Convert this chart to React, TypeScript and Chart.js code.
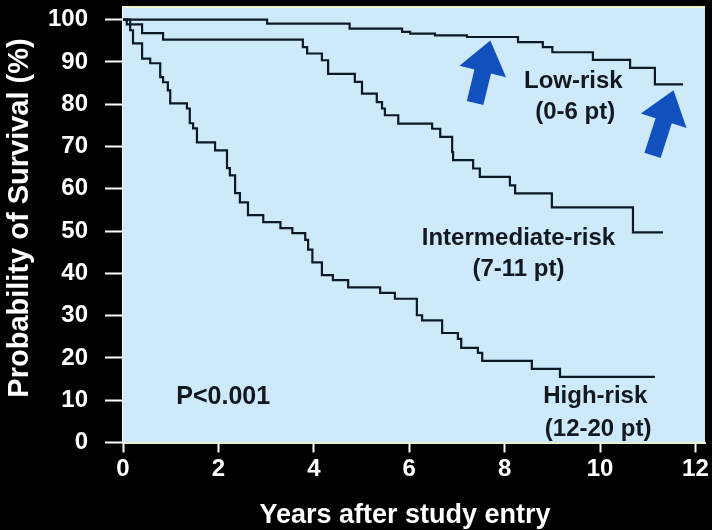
import React, { useEffect, useRef } from 'react';
import { Chart, registerables } from 'chart.js';

Chart.register(...registerables);

// ---- Data (years after study entry, survival %) ----
const lowRiskYears = [0, 3.02, 4.75, 5.85, 6.02, 6.54, 7.21, 8.28, 8.8, 9.0, 9.85, 10.63, 11.15, 11.74];
const lowRiskSurv = [100, 99.05, 97.9, 97.1, 96.7, 96.3, 95.9, 94.7, 93.5, 92.3, 90.5, 88.6, 84.7, 84.7];

const interYears = [0, 0.08, 0.4, 0.84, 3.77, 3.86, 4.17, 4.3, 4.86, 5.01, 5.32, 5.43, 5.49, 5.77, 6.48, 6.65, 6.9, 6.92, 7.34, 7.48, 8.11, 8.22, 8.99, 10.69, 11.32];
const interSurv = [100, 98.9, 96.8, 95.3, 93.5, 92.0, 90.4, 87.2, 85.3, 82.5, 80.5, 79.0, 77.4, 75.4, 74.2, 72.3, 68.7, 66.8, 64.8, 62.8, 60.8, 58.9, 55.6, 49.7, 49.7];

const highYears = [0, 0.15, 0.21, 0.4, 0.57, 0.78, 0.84, 0.94, 0.99, 1.34, 1.4, 1.47, 1.55, 1.93, 2.18, 2.24, 2.35, 2.45, 2.62, 2.94, 3.3, 3.55, 3.82, 3.88, 3.97, 4.17, 4.4, 4.72, 5.39, 5.7, 6.16, 6.27, 6.69, 7.02, 7.09, 7.44, 7.53, 8.57, 9.16, 11.15];
const highSurv = [100, 97.5, 94.4, 90.8, 89.7, 86.4, 85.2, 83.3, 80.2, 79.0, 75.5, 74.3, 71.0, 69.1, 64.9, 63.2, 59.0, 56.8, 53.8, 52.1, 50.7, 49.5, 47.9, 45.6, 42.6, 39.6, 38.4, 36.7, 35.4, 34.0, 30.1, 28.9, 25.9, 24.5, 22.4, 21.2, 19.3, 17.4, 15.5, 15.5];

const xTicks = [0, 2, 4, 6, 8, 10, 12];
const yTicks = [0, 10, 20, 30, 40, 50, 60, 70, 80, 90, 100];

const xTitle = 'Years after study entry';
const yTitle = 'Probability of Survival (%)';

// Annotation labels (data coordinates)
const labelTexts = ['Low-risk', '(0-6 pt)', 'Intermediate-risk', '(7-11 pt)', 'High-risk', '(12-20 pt)', 'P<0.001'];
const labelYears = [9.44, 9.48, 8.29, 8.29, 9.9, 9.96, 2.1];
const labelSurv = [85.4, 78.1, 48.3, 41.0, 10.8, 3.2, 10.8];

// Arrows (data coordinates): tail -> tip
const arrowTailYears = [7.38, 11.1];
const arrowTailSurv = [80.3, 67.9];
const arrowTipYears = [7.7, 11.54];
const arrowTipSurv = [95.1, 83.3];

const FONT = "'Liberation Sans', Arial, sans-serif";
const LINE_COLOR = '#0b1826';
const PLOT_BG = '#cde9fa';

const toPoints = (xs: number[], ys: number[]) => xs.map((x, i) => ({ x, y: ys[i] }));

const decorPlugin = {
  id: 'decor',
  beforeDatasetsDraw(chart: any) {
    const { ctx, chartArea } = chart;
    ctx.save();
    ctx.fillStyle = PLOT_BG;
    ctx.fillRect(chartArea.left, chartArea.top, chartArea.right - chartArea.left, chartArea.bottom - chartArea.top);
    ctx.fillStyle = '#eef4c8';
    ctx.fillRect(chartArea.left, chartArea.top - 1, chartArea.right - chartArea.left, 2);
    ctx.restore();
  },
  afterDatasetsDraw(chart: any) {
    const { ctx, chartArea } = chart;
    const xs = chart.scales.x;
    const ys = chart.scales.y;
    ctx.save();
    // arrows
    ctx.fillStyle = '#1150bd';
    for (let i = 0; i < arrowTipYears.length; i++) {
      const tx = xs.getPixelForValue(arrowTipYears[i]);
      const ty = ys.getPixelForValue(arrowTipSurv[i]);
      const bx = xs.getPixelForValue(arrowTailYears[i]);
      const by = ys.getPixelForValue(arrowTailSurv[i]);
      const dx = tx - bx;
      const dy = ty - by;
      const len = Math.hypot(dx, dy);
      const ux = dx / len;
      const uy = dy / len;
      const nx = -uy;
      const ny = ux;
      const hl = 32;
      const hw = 24;
      const sw = 8.5;
      const neckX = tx - ux * hl;
      const neckY = ty - uy * hl;
      ctx.beginPath();
      ctx.moveTo(tx, ty);
      ctx.lineTo(neckX + nx * hw, neckY + ny * hw);
      ctx.lineTo(neckX + nx * sw, neckY + ny * sw);
      ctx.lineTo(bx + nx * sw, by + ny * sw);
      ctx.lineTo(bx - nx * sw, by - ny * sw);
      ctx.lineTo(neckX - nx * sw, neckY - ny * sw);
      ctx.lineTo(neckX - nx * hw, neckY - ny * hw);
      ctx.closePath();
      ctx.fill();
    }
    // labels
    ctx.fillStyle = '#111820';
    ctx.textAlign = 'center';
    ctx.textBaseline = 'middle';
    for (let i = 0; i < labelTexts.length; i++) {
      const size = labelTexts[i].startsWith('P<') ? 25 : 24;
      ctx.font = `bold ${size}px ${FONT}`;
      ctx.fillText(labelTexts[i], xs.getPixelForValue(labelYears[i]), ys.getPixelForValue(labelSurv[i]));
    }
    ctx.restore();

    // axis titles
    ctx.save();
    ctx.fillStyle = '#ffffff';
    ctx.textAlign = 'center';
    ctx.textBaseline = 'middle';
    ctx.font = `bold 27px ${FONT}`;
    ctx.fillText(xTitle, chartArea.left + 282, chart.height - 14);
    ctx.translate(20, chartArea.top + 211);
    ctx.rotate(-Math.PI / 2);
    ctx.font = `bold 29px ${FONT}`;
    ctx.fillText(yTitle, 0, 0);
    ctx.restore();
  },
};

export default function App() {
  const canvasRef = useRef<HTMLCanvasElement | null>(null);

  useEffect(() => {
    if (!canvasRef.current) return;
    const lineDs = (label: string, xs: number[], ys: number[]) => ({
      label,
      data: toPoints(xs, ys),
      borderColor: LINE_COLOR,
      borderWidth: 2.2,
      pointRadius: 0,
      stepped: true as const,
      fill: false,
    });
    const chart = new Chart(canvasRef.current, {
      type: 'line',
      data: {
        datasets: [
          lineDs('Low-risk (0-6 pt)', lowRiskYears, lowRiskSurv),
          lineDs('Intermediate-risk (7-11 pt)', interYears, interSurv),
          lineDs('High-risk (12-20 pt)', highYears, highSurv),
        ],
      },
      options: {
        responsive: false,
        animation: false,
        devicePixelRatio: 1,
        layout: { padding: { top: 7, right: 7, left: 0, bottom: 0 } },
        plugins: {
          legend: { display: false },
          tooltip: { enabled: false },
        },
        scales: {
          x: {
            type: 'linear',
            min: 0,
            max: 12.2,
            afterBuildTicks: (scale: any) => {
              scale.ticks = xTicks.map((v) => ({ value: v }));
            },
            afterFit: (scale: any) => {
              scale.height = 87.5;
              scale.paddingLeft = 0;
              scale.paddingRight = 0;
            },
            grid: {
              drawOnChartArea: false,
              drawTicks: true,
              tickLength: 10,
              tickWidth: 2,
              tickColor: '#ffffff',
            },
            border: { display: true, color: '#eef4c8', width: 2 },
            ticks: {
              color: '#ffffff',
              font: { family: FONT, size: 24, weight: 'bold' },
              padding: 2,
              maxRotation: 0,
              callback: (v: any) => String(v),
            },
            title: { display: false, text: xTitle },
          },
          y: {
            type: 'linear',
            min: 0,
            max: 103,
            afterBuildTicks: (scale: any) => {
              scale.ticks = yTicks.map((v) => ({ value: v }));
            },
            afterFit: (scale: any) => {
              scale.width = 123;
              scale.paddingTop = 0;
              scale.paddingBottom = 0;
            },
            grid: {
              drawOnChartArea: false,
              drawTicks: true,
              tickLength: 18,
              tickWidth: 2,
              tickColor: '#ffffff',
            },
            border: { display: true, color: '#ffffff', width: 2 },
            ticks: {
              color: '#ffffff',
              font: { family: FONT, size: 24, weight: 'bold' },
              padding: 17,
              callback: (v: any) => String(v),
            },
            title: { display: false, text: yTitle },
          },
        },
      },
      plugins: [decorPlugin],
    });
    return () => chart.destroy();
  }, []);

  return (
    <div style={{ position: 'fixed', left: 0, top: 0, width: 712, height: 530, background: '#000' }}>
      <canvas ref={canvasRef} width={712} height={530} style={{ display: 'block' }} />
    </div>
  );
}
